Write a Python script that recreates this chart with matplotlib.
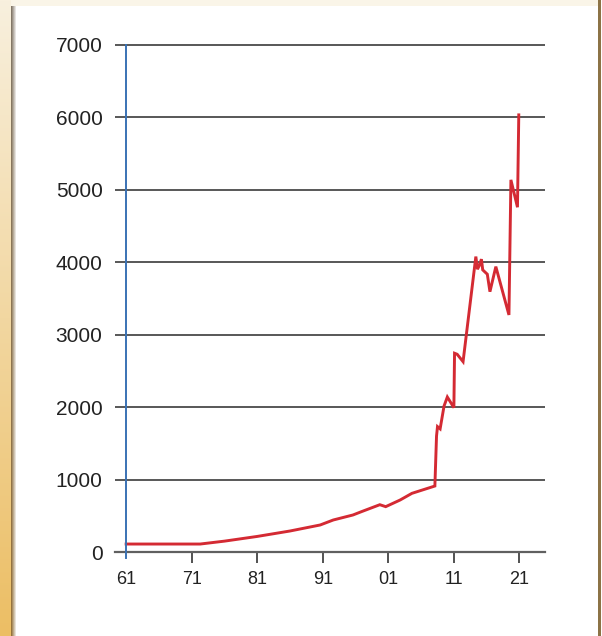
import numpy as np
import matplotlib
matplotlib.use("Agg")
import matplotlib.pyplot as plt

# ---- data ----
years = [1961, 1972.3, 1976, 1981, 1986, 1990.6, 1992.6, 1995.6, 1996.9, 1999.7,
         2000.6, 2002.8, 2004.6, 2008.1, 2008.35, 2008.5, 2008.9, 2009.5, 2010.0,
         2011.0, 2011.1, 2011.5, 2012.4, 2014.35, 2014.6, 2014.85, 2015.2, 2015.4,
         2016.1, 2016.5, 2017.4, 2019.4, 2019.7, 2020.7, 2020.9]
values = [110, 110, 150, 215, 290, 373, 442, 511, 557, 653,
          626, 718, 810, 911, 1600, 1731, 1700, 2016, 2140,
          1993, 2744, 2730, 2628, 4079, 3904, 3950, 4043, 3895,
          3835, 3594, 3940, 3273, 5138, 4760, 6035]
xtick_pos = [1961, 1971, 1981, 1991, 2001, 2011, 2021]
xtick_labels = ["61", "71", "81", "91", "01", "11", "21"]
ytick_pos = [0, 1000, 2000, 3000, 4000, 5000, 6000, 7000]
ytick_labels = ["0", "1000", "2000", "3000", "4000", "5000", "6000", "7000"]

plt.rcParams['font.family'] = ['Liberation Sans', 'DejaVu Sans']

W, H = 602, 636
fig = plt.figure(figsize=(W / 100, H / 100), dpi=100)

# ---- decorative background frame ----
bg = np.ones((H, W, 3))
cream = np.array([250, 245, 232]) / 255
bg[0:6, :, :] = cream
t = np.linspace(0, 1, H)[:, None]
top_c = np.array([248, 240, 222]) / 255
bot_c = np.array([236, 190, 100]) / 255
strip = top_c * (1 - t) + bot_c * t
bg[:, 0:11, :] = strip[:, None, :]
sh_top = np.array([130, 120, 105]) / 255
sh_bot = np.array([150, 115, 60]) / 255
shadow = sh_top * (1 - t) + sh_bot * t
for i, c in enumerate(range(11, 16)):
    a = 1 - i / 5
    bg[6:, c, :] = shadow[6:] * a + np.ones(3) * (1 - a)
bg[:, 598:601, :] = np.array([140, 115, 70]) / 255
bg[:, 601:, :] = 1
bax = fig.add_axes([0, 0, 1, 1])
bax.imshow(bg, aspect='auto', interpolation='nearest')
bax.axis('off')

# ---- main axes ----
x0, x1 = 1959.3, 2024.9
y0, y1 = -80, 7030
px_per_unit = 72.43 / 1000
top_px = 45 - (y1 - 7000) * px_per_unit
bot_px = 552 + (0 - y0) * px_per_unit
ax = fig.add_axes([115 / W, 1 - bot_px / H, 430 / W, (bot_px - top_px) / H])
ax.set_facecolor('none')
ax.set_xlim(x0, x1)
ax.set_ylim(y0, y1)

ax.plot(years, values, color='#d42a33', lw=2.1, solid_joinstyle='miter', zorder=4)

ax.set_yticks(ytick_pos)
ax.set_yticklabels(ytick_labels)
ax.set_xticks(xtick_pos)
ax.set_xticklabels(xtick_labels)
ax.grid(axis='y', color='#2a2a2a', lw=1.1, zorder=1)

for s in ['top', 'right']:
    ax.spines[s].set_visible(False)
ax.spines['left'].set_position(('data', 1961))
ax.spines['left'].set_bounds(y0, 7000)
ax.spines['left'].set_color('#3a72b4')
ax.spines['left'].set_linewidth(1.4)
ax.spines['left'].set_zorder(5)
ax.spines['bottom'].set_position(('data', 0))
ax.spines['bottom'].set_color('#606060')
ax.spines['bottom'].set_linewidth(1.6)

ax.tick_params(axis='y', length=0, pad=17, labelsize=15, labelcolor='#222222')
ax.tick_params(axis='x', direction='out', length=8, width=1.2, color='#333333',
               pad=6, labelsize=13, labelcolor='#222222')
fig.canvas.draw()
ax.xaxis.get_major_ticks()[0].tick1line.set_visible(False)

fig.savefig('out.png', dpi=100)
